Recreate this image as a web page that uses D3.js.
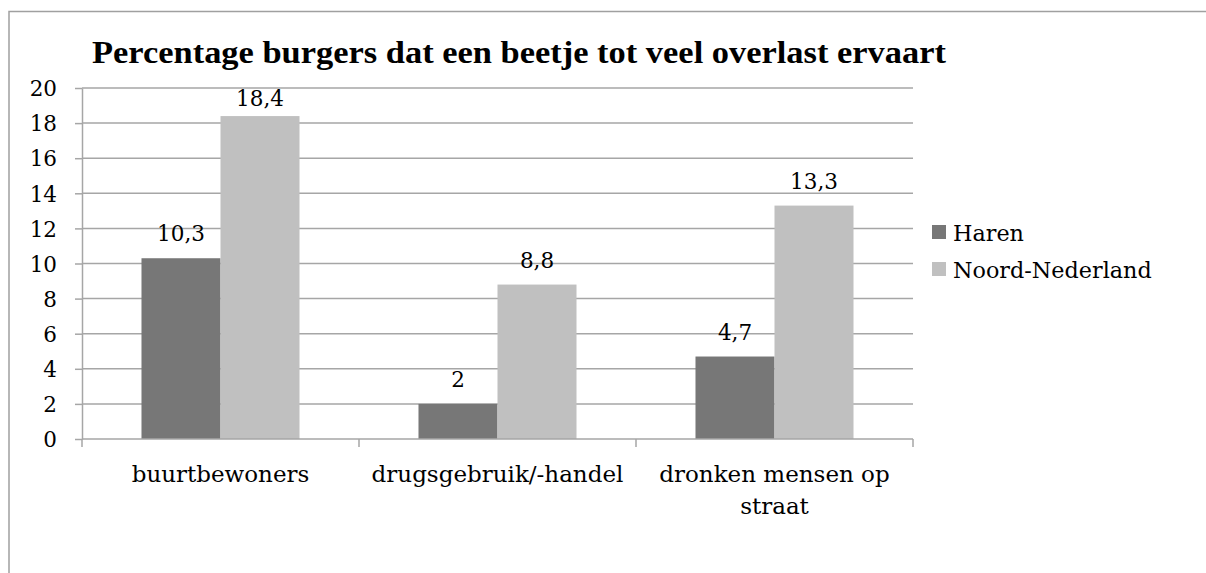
<!DOCTYPE html>
<meta charset="utf-8">
<style>
body { margin: 0; background: #fff; }
svg { display: block; }
text { font-family: "DejaVu Serif", serif; fill: #000; }
.grid line { stroke: #a6a6a6; stroke-width: 1.5px; }
.axis path, .axis line { stroke: #a6a6a6; stroke-width: 1.5px; }
</style>
<body>
<script src="https://d3js.org/d3.v7.min.js"></script>
<script>

// data
var categories = ["buurtbewoners", "drugsgebruik/-handel", "dronken mensen op straat"];
var seriesNames = ["Haren", "Noord-Nederland"];
var haren = [10.3, 2, 4.7];
var noord = [18.4, 8.8, 13.3];
var yTicks = [0, 2, 4, 6, 8, 10, 12, 14, 16, 18, 20];
var colors = ["#777777", "#c0c0c0"];
var title = "Percentage burgers dat een beetje tot veel overlast ervaart";

var W = 1206, H = 573;
var plot = {left: 82, right: 913, top: 88, bottom: 439};

var svg = d3.select("body").append("svg")
    .attr("width", W)
    .attr("height", H);

// outer border (only top and left visible)
svg.append("rect")
    .attr("x", 9).attr("y", 11.5)
    .attr("width", 1220).attr("height", 620)
    .attr("fill", "none")
    .attr("stroke", "#a0a0a0")
    .attr("stroke-width", 1.5);

var y = d3.scaleLinear().domain([0, 20]).range([plot.bottom, plot.top]);
var x0 = d3.scaleBand().domain(categories).range([plot.left, plot.right]);
var x1 = d3.scaleBand().domain(seriesNames).range([0, x0.bandwidth()]).paddingOuter(0.753);

// gridlines
svg.append("g")
    .attr("class", "grid")
    .selectAll("line")
    .data(yTicks.filter(function(d) { return d > 0; }))
    .enter().append("line")
    .attr("x1", plot.left).attr("x2", plot.right)
    .attr("y1", function(d) { return y(d); })
    .attr("y2", function(d) { return y(d); });

// bars
var rows = categories.map(function(c, i) {
  return {cat: c, values: [{s: seriesNames[0], v: haren[i]}, {s: seriesNames[1], v: noord[i]}]};
});

var groups = svg.selectAll(".cat")
    .data(rows)
    .enter().append("g")
    .attr("class", "cat")
    .attr("transform", function(d) { return "translate(" + x0(d.cat) + ",0)"; });

groups.selectAll("rect")
    .data(function(d) { return d.values; })
    .enter().append("rect")
    .attr("x", function(d) { return x1(d.s); })
    .attr("width", x1.bandwidth())
    .attr("y", function(d) { return y(d.v); })
    .attr("height", function(d) { return y(0) - y(d.v); })
    .attr("fill", function(d, i) { return colors[i]; });

// value labels
groups.selectAll("text.val")
    .data(function(d) { return d.values; })
    .enter().append("text")
    .attr("class", "val")
    .attr("x", function(d) { return x1(d.s) + x1.bandwidth() / 2; })
    .attr("y", function(d) { return Math.max(y(d.v) - 17, plot.top + 18); })
    .attr("text-anchor", "middle")
    .style("font-size", "21.5px")
    .text(function(d) { return String(d.v).replace(".", ","); });

// y axis
var yAxis = svg.append("g")
    .attr("class", "axis")
    .attr("transform", "translate(" + plot.left + ",0)")
    .call(d3.axisLeft(y).tickValues(yTicks).tickSize(7).tickSizeOuter(0).tickPadding(18));
yAxis.selectAll("text").style("font-size", "21.5px").attr("dy", "0.36em");

// x axis
var xAxis = svg.append("g")
    .attr("class", "axis")
    .attr("transform", "translate(0," + plot.bottom + ")");
xAxis.append("line")
    .attr("x1", plot.left).attr("x2", plot.right);
var bounds = categories.map(function(c) { return x0(c); }).concat([plot.right]);
xAxis.selectAll("line.tick")
    .data(bounds)
    .enter().append("line")
    .attr("class", "tick")
    .attr("x1", function(d) { return d; }).attr("x2", function(d) { return d; })
    .attr("y1", 0).attr("y2", 8);

// category labels, wrapped
xAxis.selectAll("text.cat")
    .data(categories)
    .enter().append("text")
    .attr("class", "cat")
    .attr("text-anchor", "middle")
    .style("font-size", "23px")
    .attr("x", function(d) { return x0(d) + x0.bandwidth() / 2; })
    .attr("y", 43)
    .each(function(d) {
      var t = d3.select(this), words = d.split(" "), line = [], lines = [];
      var probe = t.append("tspan");
      words.forEach(function(w) {
        var trial = line.concat([w]).join(" ");
        probe.text(trial);
        if (probe.node().getComputedTextLength() > 268 && line.length) {
          lines.push(line.join(" "));
          line = [w];
        } else {
          line.push(w);
        }
      });
      lines.push(line.join(" "));
      probe.remove();
      lines.forEach(function(l, i) {
        t.append("tspan")
          .attr("x", x0(d) + x0.bandwidth() / 2)
          .attr("dy", i === 0 ? 0 : 32)
          .text(l);
      });
    });

// title
svg.append("text")
    .attr("x", 519)
    .attr("y", 63)
    .attr("text-anchor", "middle")
    .attr("textLength", 854)
    .attr("lengthAdjust", "spacingAndGlyphs")
    .style("font-family", "'Liberation Serif', serif")
    .style("font-weight", "bold")
    .style("font-size", "31px")
    .text(title);

// legend
var legend = svg.append("g")
    .attr("transform", "translate(932,225)");
var items = legend.selectAll("g")
    .data(seriesNames)
    .enter().append("g")
    .attr("transform", function(d, i) { return "translate(0," + (i * 37) + ")"; });
items.append("rect")
    .attr("width", 14).attr("height", 14)
    .attr("fill", function(d, i) { return colors[i]; });
items.append("text")
    .attr("x", 21).attr("y", 16)
    .style("font-size", "22.3px")
    .text(function(d) { return d; });

</script>
</body>
